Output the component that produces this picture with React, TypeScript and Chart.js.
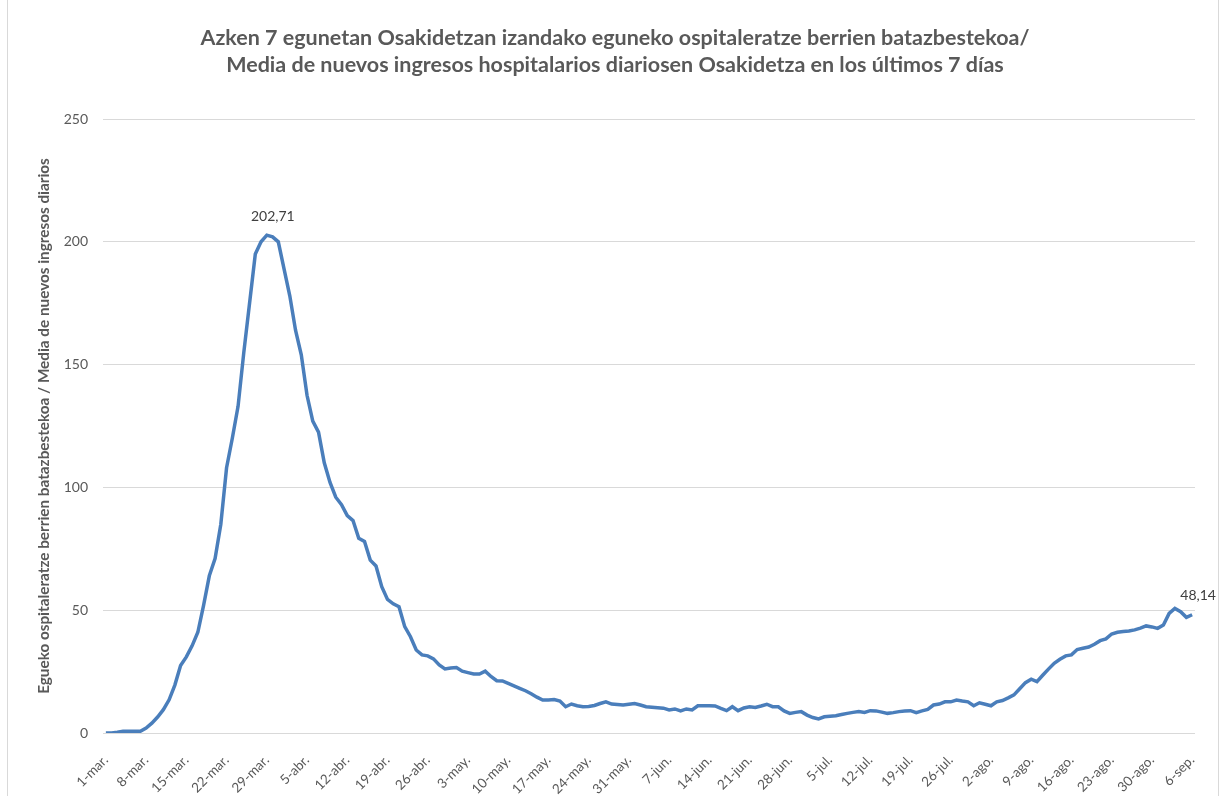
import React, { useEffect, useRef } from 'react';
import { Chart, registerables } from 'chart.js';

Chart.register(...registerables);

// Month abbreviations used in the category labels (Spanish, Excel style)
const monthNames = ['mar.', 'abr.', 'may.', 'jun.', 'jul.', 'ago.', 'sep.'];

// 7-day mean of daily new hospital admissions, by month (2020)
const marValues = [0, 0, 0.3, 0.7, 0.7, 0.7, 0.7, 2, 4, 6.5, 9.5, 13.5, 19.5, 27.5, 31, 35.5, 41, 52, 64, 71, 85, 108, 120, 133, 155, 175, 195, 200, 202.71, 202, 200];
const abrValues = [189, 178, 164, 154, 137.5, 127, 122.5, 110, 102, 96, 93, 88.5, 86.5, 79.3, 78, 70.4, 68, 59.6, 54.4, 52.6, 51.4, 43.3, 39.2, 33.8, 31.8, 31.4, 30.2, 27.7, 26.1, 26.5];
const mayValues = [26.7, 25.2, 24.6, 24, 24, 25.2, 23, 21.3, 21.2, 20.2, 19.2, 18.2, 17.2, 16, 14.6, 13.4, 13.4, 13.6, 13, 10.7, 11.8, 11.1, 10.7, 10.8, 11.2, 12, 12.7, 11.8, 11.6, 11.4, 11.7];
const junValues = [12, 11.4, 10.7, 10.5, 10.3, 10.1, 9.4, 9.8, 9, 9.8, 9.4, 11.1, 11.1, 11.1, 11, 10, 9.1, 10.7, 9.1, 10.2, 10.7, 10.4, 11, 11.7, 10.7, 10.7, 9, 8, 8.4, 8.7];
const julValues = [7.3, 6.3, 5.7, 6.6, 6.8, 7, 7.5, 8, 8.4, 8.7, 8.4, 9.1, 9, 8.5, 8, 8.3, 8.7, 9, 9.1, 8.3, 9, 9.6, 11.4, 11.8, 12.7, 12.7, 13.4, 13, 12.7, 11.1, 12.3];
const agoValues = [11.7, 11.1, 12.7, 13.2, 14.3, 15.5, 18, 20.5, 21.9, 20.9, 23.5, 26, 28.4, 30, 31.4, 31.8, 34, 34.5, 35, 36.1, 37.6, 38.3, 40.3, 41, 41.3, 41.5, 42, 42.7, 43.6, 43.2, 42.6];
const sepValues = [44, 48.7, 50.7, 49.4, 47.1, 48.14];

const monthSeries = [marValues, abrValues, mayValues, junValues, julValues, agoValues, sepValues];

const categories: string[] = [];
monthSeries.forEach((vals, m) => vals.forEach((_, i) => categories.push(`${i + 1}-${monthNames[m]}`)));
const values: number[] = monthSeries.flat();

const tickEvery = 7;
const yMin = 0;
const yMax = 250;
const yStep = 50;

const titleLines = [
  'Azken 7 egunetan Osakidetzan izandako eguneko ospitaleratze berrien batazbestekoa/',
  'Media de nuevos ingresos hospitalarios diariosen Osakidetza en los últimos 7 días',
];
const yTitle = 'Egueko ospitaleratze berrien batazbestekoa / Media de nuevos ingresos diarios';

const peakIndex = values.indexOf(Math.max(...values));
const labeledIndices = [peakIndex, values.length - 1];

const FONT = 'Lato, "Open Sans", sans-serif';
const GRAY = '#595959';

const pointLabels = {
  id: 'pointLabels',
  afterDatasetsDraw(chart: any) {
    const meta = chart.getDatasetMeta(0);
    const ctx = chart.ctx;
    ctx.save();
    ctx.font = `14px ${FONT}`;
    ctx.fillStyle = '#404040';
    ctx.textAlign = 'center';
    ctx.textBaseline = 'middle';
    labeledIndices.forEach((i) => {
      const el = meta.data[i];
      if (!el) return;
      const txt = values[i].toFixed(2).replace('.', ',');
      ctx.fillText(txt, el.x + 6, el.y - 19);
    });
    ctx.restore();
  },
};

export default function App() {
  const canvasRef = useRef<HTMLCanvasElement | null>(null);

  useEffect(() => {
    if (!canvasRef.current) return;
    const chart = new Chart(canvasRef.current, {
      type: 'line',
      data: {
        labels: categories,
        datasets: [
          {
            data: values,
            borderColor: '#4A7EBB',
            borderWidth: 3.5,
            pointRadius: 0,
            tension: 0,
            fill: false,
          },
        ],
      },
      plugins: [pointLabels],
      options: {
        animation: false,
        responsive: false,
        maintainAspectRatio: false,
        layout: { padding: { left: 35, right: 29, top: 0, bottom: 0 } },
        plugins: {
          legend: { display: false },
          tooltip: { enabled: false },
          title: {
            display: true,
            text: titleLines,
            color: GRAY,
            font: { family: FONT, size: 21.5, weight: 'bold', lineHeight: 26.5 / 21.5 },
            padding: { top: 25, bottom: 41 },
          },
        },
        scales: {
          x: {
            type: 'category',
            offset: true,
            grid: { display: false, drawTicks: false },
            border: { display: false },
            ticks: {
              autoSkip: false,
              maxRotation: 45,
              minRotation: 45,
              color: GRAY,
              font: { family: FONT, size: 13.5 },
              padding: 19,
              callback: function (this: any, v: any, i: number) {
                return i % tickEvery === 0 ? this.getLabelForValue(v) : null;
              },
            },
            afterFit: (s: any) => {
              s.height = 63;
            },
          },
          y: {
            min: yMin,
            max: yMax,
            ticks: {
              stepSize: yStep,
              color: GRAY,
              font: { family: FONT, size: 14 },
              padding: 15,
            },
            grid: { color: '#d9d9d9', lineWidth: 1, drawTicks: false },
            border: { display: false },
            title: {
              display: true,
              text: yTitle,
              color: GRAY,
              font: { family: FONT, size: 15.3, weight: 'bold' },
              padding: 0,
            },
            afterFit: (s: any) => {
              s.width = 68;
            },
          },
        },
      },
    } as any);
    return () => chart.destroy();
  }, []);

  return (
    <div style={{ position: 'fixed', left: 0, top: 0, width: 1224, height: 796, background: '#fff' }}>
      <canvas ref={canvasRef} width={1224} height={796} style={{ display: 'block', width: 1224, height: 796 }} />
      <div
        style={{
          position: 'absolute',
          left: 7,
          top: 0,
          width: 1210,
          height: 796,
          borderLeft: '1px solid #d9d9d9',
          borderRight: '1px solid #d9d9d9',
          pointerEvents: 'none',
        }}
      />
    </div>
  );
}
